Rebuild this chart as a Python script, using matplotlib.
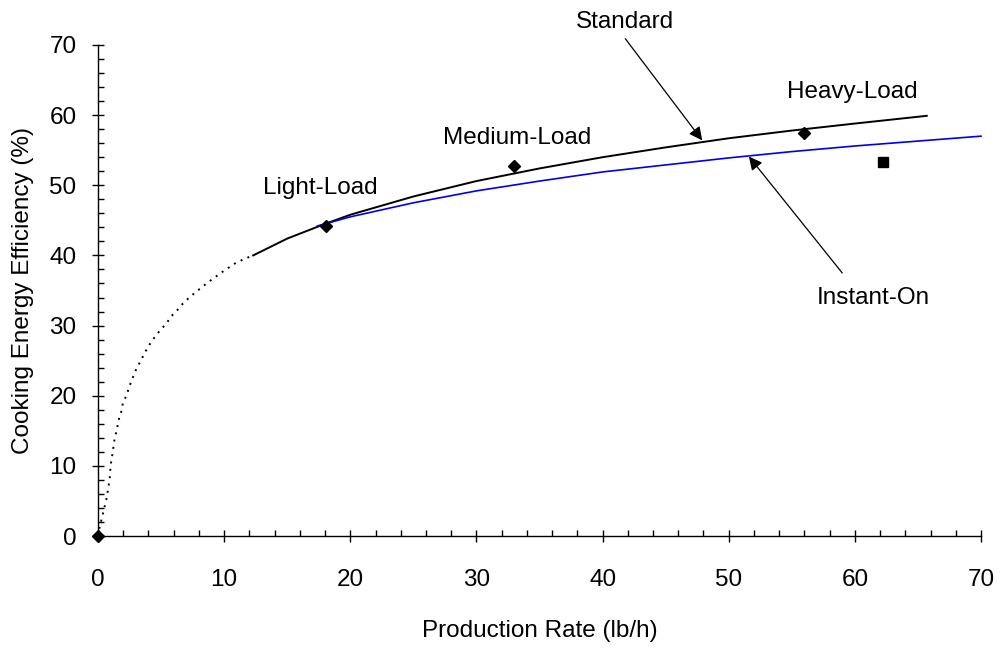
import numpy as np
import matplotlib
matplotlib.use("Agg")
import matplotlib.pyplot as plt
from matplotlib.ticker import MultipleLocator

plt.rcParams['font.family'] = ['Liberation Sans', 'DejaVu Sans']

# --- data ---
# Standard fryer curve (solid black)
std_x = [12.3, 15, 18, 20, 25, 30, 35, 40, 45, 50, 55, 60, 65.7]
std_y = [40.0, 42.4, 44.5, 45.8, 48.4, 50.6, 52.4, 54.0, 55.4, 56.7, 57.8, 58.8, 59.9]

# extrapolated part of the standard curve (dotted)
dot_x = [0, 0.13, 0.34, 0.5, 0.66, 0.79, 0.92, 1.0, 1.13, 1.32, 1.5, 1.63, 1.84, 1.97,
         2.29, 2.5, 2.76, 3.03, 3.42, 3.76, 4.16, 4.55, 5.0, 5.39, 5.79, 6.24, 6.71,
         7.24, 7.84, 8.6, 9.21, 9.82, 10.4, 10.9, 11.6, 12.3]
dot_y = [0, 1.3, 2.8, 4.0, 5.2, 6.6, 8.0, 10.1, 11.5, 13.9, 15.2, 16.5, 17.7, 18.9,
         20.2, 21.4, 22.6, 23.8, 25.1, 26.3, 27.5, 28.5, 29.5, 30.2, 31.3, 32.1, 33.1,
         34.0, 34.9, 36.0, 36.8, 37.6, 38.3, 38.9, 39.5, 40.0]

# Instant-On curve (blue)
ion_x = [17.4, 20, 25, 30, 35, 40, 45, 50, 55, 60, 65, 70]
ion_y = [44.2, 45.5, 47.5, 49.2, 50.6, 51.9, 52.9, 53.9, 54.8, 55.6, 56.3, 57.0]

# measured test points
load_x = [0, 18.1, 33.0, 56.0]
load_y = [0, 44.2, 52.8, 57.4]
sq_x = [62.2]
sq_y = [53.3]

FS = 17.5

# --- plot ---
fig = plt.figure(figsize=(10, 6.48), dpi=100)
ax = fig.add_axes([0.098, 0.1728, 0.883, 0.7578])

ax.plot(dot_x, dot_y, color='black', lw=1.4, linestyle=(0, (1, 2.8)), clip_on=False)
ax.plot(std_x, std_y, color='black', lw=1.4, clip_on=False)
ax.plot(ion_x, ion_y, color='#0000ee', lw=1.2, clip_on=False)
ax.plot(load_x, load_y, linestyle='none', marker='D', ms=6, color='black', clip_on=False, zorder=5)
ax.plot(sq_x, sq_y, linestyle='none', marker='s', ms=6.5, color='black', zorder=5)

# labels for the load points
label_pos = {'Light-Load': (17.6, 49.6), 'Medium-Load': (33.2, 56.8), 'Heavy-Load': (59.8, 63.3)}
for name, (lx, ly) in label_pos.items():
    ax.text(lx, ly, name, fontsize=FS, ha='center', va='center')

# callouts
arrow = dict(arrowstyle='-|>', color='black', lw=0.9, mutation_scale=20, shrinkA=0, shrinkB=0)
ax.text(41.8, 73.3, 'Standard', fontsize=FS, ha='center', va='center', clip_on=False)
ax.annotate('', xy=(47.9, 56.4), xytext=(41.8, 70.9), arrowprops=arrow, annotation_clip=False)
ax.text(61.5, 33.9, 'Instant-On', fontsize=FS, ha='center', va='center')
ax.annotate('', xy=(51.6, 54.1), xytext=(59.0, 37.5), arrowprops=arrow, annotation_clip=False)

ax.set_xlim(0, 70)
ax.set_ylim(0, 70)
ax.spines['top'].set_visible(False)
ax.spines['right'].set_visible(False)
for s in ['left', 'bottom']:
    ax.spines[s].set_linewidth(1.0)

ax.xaxis.set_major_locator(MultipleLocator(10))
ax.xaxis.set_minor_locator(MultipleLocator(2))
ax.yaxis.set_major_locator(MultipleLocator(10))
ax.yaxis.set_minor_locator(MultipleLocator(2))
ax.tick_params(which='major', direction='inout', length=9, width=1.0, labelsize=FS)
ax.tick_params(which='minor', direction='in', length=4, width=1.0)
ax.tick_params(axis='x', which='major', pad=19)
ax.tick_params(axis='y', which='major', pad=11)

ax.set_xlabel('Production Rate (lb/h)', fontsize=FS, labelpad=21)
ax.set_ylabel('Cooking Energy Efficiency (%)', fontsize=FS, labelpad=11)

fig.savefig('out.png', dpi=100)
